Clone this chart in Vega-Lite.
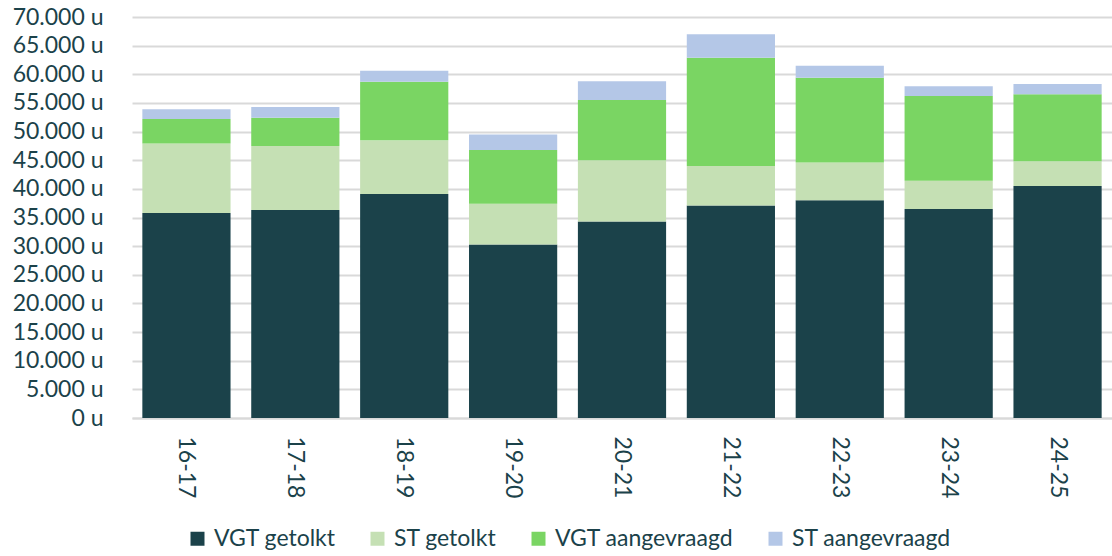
{
  "$schema": "https://vega.github.io/schema/vega-lite/v6.json",
  "autosize": {"type": "none"},
  "padding": {"left": 132, "top": 17, "right": 0, "bottom": 138},
  "width": 980,
  "height": 401,
  "background": "white",
  "config": {
    "font": "Lato",
    "view": {"stroke": null},
    "axis": {"labelFont": "Lato", "labelColor": "#1B424A", "labelFontSize": 23}
  },
  "data": {
    "values": [
      {"jaar": "16-17", "reeks": "VGT getolkt", "i": 1, "uren": 35800},
      {"jaar": "16-17", "reeks": "ST getolkt", "i": 2, "uren": 12100},
      {"jaar": "16-17", "reeks": "VGT aangevraagd", "i": 3, "uren": 4300},
      {"jaar": "16-17", "reeks": "ST aangevraagd", "i": 4, "uren": 1700},
      {"jaar": "17-18", "reeks": "VGT getolkt", "i": 1, "uren": 36300},
      {"jaar": "17-18", "reeks": "ST getolkt", "i": 2, "uren": 11200},
      {"jaar": "17-18", "reeks": "VGT aangevraagd", "i": 3, "uren": 4900},
      {"jaar": "17-18", "reeks": "ST aangevraagd", "i": 4, "uren": 1900},
      {"jaar": "18-19", "reeks": "VGT getolkt", "i": 1, "uren": 39100},
      {"jaar": "18-19", "reeks": "ST getolkt", "i": 2, "uren": 9400},
      {"jaar": "18-19", "reeks": "VGT aangevraagd", "i": 3, "uren": 10200},
      {"jaar": "18-19", "reeks": "ST aangevraagd", "i": 4, "uren": 1900},
      {"jaar": "19-20", "reeks": "VGT getolkt", "i": 1, "uren": 30300},
      {"jaar": "19-20", "reeks": "ST getolkt", "i": 2, "uren": 7100},
      {"jaar": "19-20", "reeks": "VGT aangevraagd", "i": 3, "uren": 9400},
      {"jaar": "19-20", "reeks": "ST aangevraagd", "i": 4, "uren": 2700},
      {"jaar": "20-21", "reeks": "VGT getolkt", "i": 1, "uren": 34300},
      {"jaar": "20-21", "reeks": "ST getolkt", "i": 2, "uren": 10700},
      {"jaar": "20-21", "reeks": "VGT aangevraagd", "i": 3, "uren": 10500},
      {"jaar": "20-21", "reeks": "ST aangevraagd", "i": 4, "uren": 3300},
      {"jaar": "21-22", "reeks": "VGT getolkt", "i": 1, "uren": 37100},
      {"jaar": "21-22", "reeks": "ST getolkt", "i": 2, "uren": 6900},
      {"jaar": "21-22", "reeks": "VGT aangevraagd", "i": 3, "uren": 18900},
      {"jaar": "21-22", "reeks": "ST aangevraagd", "i": 4, "uren": 4100},
      {"jaar": "22-23", "reeks": "VGT getolkt", "i": 1, "uren": 38000},
      {"jaar": "22-23", "reeks": "ST getolkt", "i": 2, "uren": 6600},
      {"jaar": "22-23", "reeks": "VGT aangevraagd", "i": 3, "uren": 14800},
      {"jaar": "22-23", "reeks": "ST aangevraagd", "i": 4, "uren": 2100},
      {"jaar": "23-24", "reeks": "VGT getolkt", "i": 1, "uren": 36500},
      {"jaar": "23-24", "reeks": "ST getolkt", "i": 2, "uren": 4900},
      {"jaar": "23-24", "reeks": "VGT aangevraagd", "i": 3, "uren": 14800},
      {"jaar": "23-24", "reeks": "ST aangevraagd", "i": 4, "uren": 1700},
      {"jaar": "24-25", "reeks": "VGT getolkt", "i": 1, "uren": 40500},
      {"jaar": "24-25", "reeks": "ST getolkt", "i": 2, "uren": 4300},
      {"jaar": "24-25", "reeks": "VGT aangevraagd", "i": 3, "uren": 11700},
      {"jaar": "24-25", "reeks": "ST aangevraagd", "i": 4, "uren": 1800}
    ]
  },
  "mark": {"type": "bar"},
  "encoding": {
    "x": {
      "field": "jaar",
      "type": "nominal",
      "sort": null,
      "scale": {"paddingInner": 0.19, "paddingOuter": 0.095},
      "axis": {
        "title": null,
        "labelAngle": 90,
        "ticks": false,
        "labelPadding": 18,
        "labelFontSize": 23,
        "domainColor": "#D9D9D9",
        "domainWidth": 2,
        "grid": false
      }
    },
    "y": {
      "field": "uren",
      "type": "quantitative",
      "stack": "zero",
      "scale": {"domain": [0, 70000], "nice": false},
      "axis": {
        "title": null,
        "values": [0, 5000, 10000, 15000, 20000, 25000, 30000, 35000, 40000, 45000, 50000, 55000, 60000, 65000, 70000],
        "labelExpr": "replace(format(datum.value, ',d'), ',', '.') + ' u'",
        "ticks": false,
        "domain": false,
        "labelPadding": 29,
        "gridColor": "#D9D9D9",
        "gridWidth": 2
      }
    },
    "color": {
      "field": "reeks",
      "type": "nominal",
      "sort": ["VGT getolkt", "ST getolkt", "VGT aangevraagd", "ST aangevraagd"],
      "scale": {
        "domain": ["VGT getolkt", "ST getolkt", "VGT aangevraagd", "ST aangevraagd"],
        "range": ["#1B424A", "#C5E0B4", "#7AD563", "#B4C7E7"]
      },
      "legend": {
        "title": null,
        "orient": "none",
        "direction": "horizontal",
        "legendX": 54,
        "legendY": 510,
        "symbolType": "square",
        "symbolSize": 196,
        "symbolStrokeWidth": 0,
        "labelFont": "Lato",
        "labelFontSize": 23,
        "labelColor": "#1B424A",
        "labelOffset": 5,
        "labelLimit": 400,
        "columnPadding": 30,
        "padding": 0
      }
    },
    "order": {"field": "i", "type": "quantitative", "sort": "ascending"}
  }
}
